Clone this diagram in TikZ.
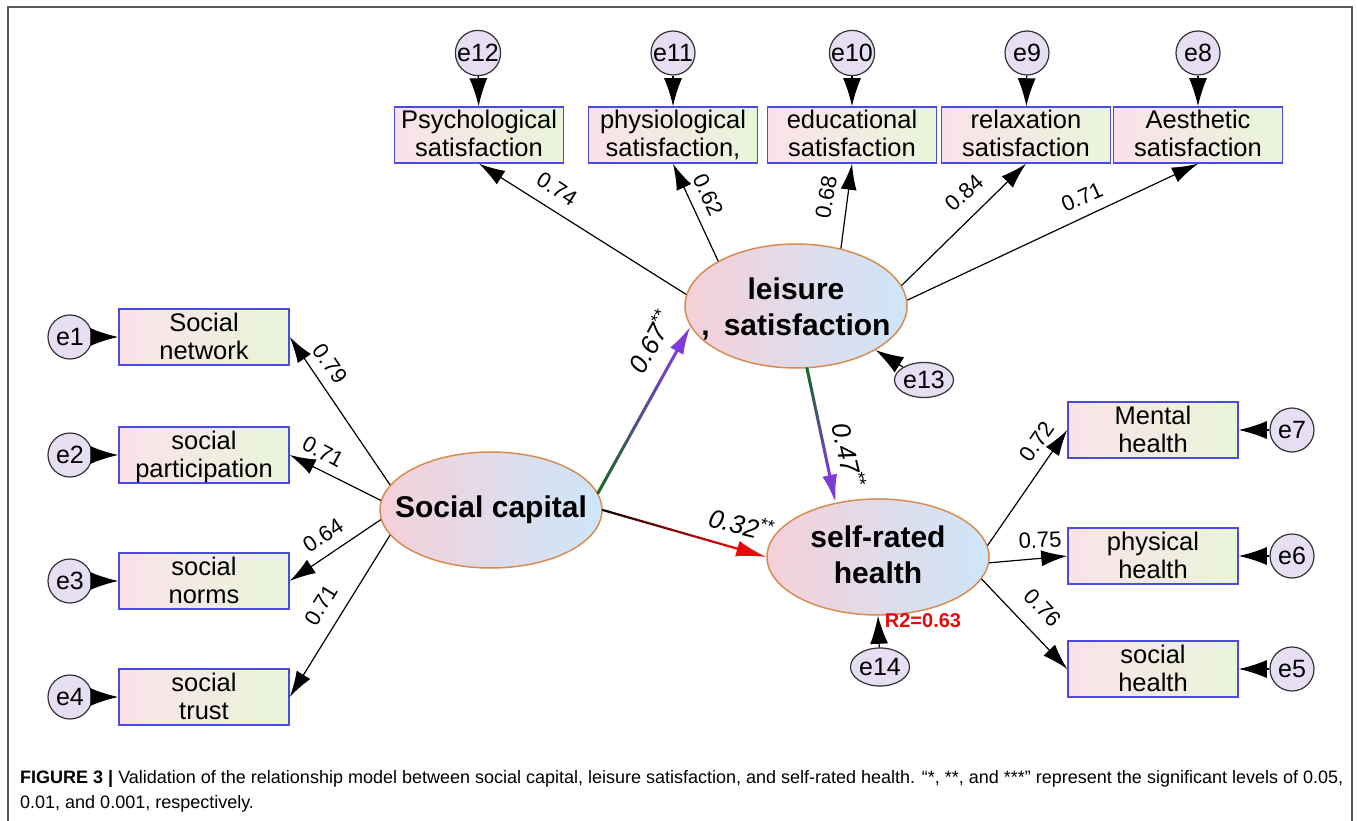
\documentclass[tikz,border=0pt]{standalone}
\usepackage{fontspec}
\setmainfont{Liberation Sans}
\usetikzlibrary{arrows.meta,shapes.geometric,calc}
\definecolor{boxl}{RGB}{250,226,234}
\definecolor{boxr}{RGB}{233,245,216}
\definecolor{boxd}{RGB}{75,75,225}
\definecolor{elll}{RGB}{245,208,216}
\definecolor{ellr}{RGB}{205,230,250}
\definecolor{elld}{RGB}{215,140,80}
\definecolor{errf}{RGB}{230,222,242}
\definecolor{gline}{RGB}{25,105,35}
\definecolor{pline}{RGB}{125,60,215}
\definecolor{kline}{RGB}{20,0,0}
\definecolor{rline}{RGB}{230,10,10}
\definecolor{framec}{RGB}{90,90,90}
\newcommand\boxstrut{\rule[-6pt]{0pt}{28pt}}
\newcommand\sigmark{\raisebox{0.35em}{\fontsize{18}{18}\selectfont **}}
\begin{document}
\begin{tikzpicture}[x=1pt,y=-1pt,
  ind/.style={draw=boxd, line width=1.5pt, left color=boxl, right color=boxr,
    minimum width=169pt, minimum height=56pt, inner sep=0pt, align=center,
    font=\fontsize{25.5}{28}\selectfont},
  lat/.style={ellipse, draw=elld, line width=1.5pt, left color=elll, right color=ellr,
    minimum width=222pt, minimum height=116pt, inner xsep=-40pt, inner ysep=-15pt, align=center,
    font=\fontsize{30}{36}\bfseries\selectfont},
  err/.style={circle, draw=black!80, line width=1.2pt, fill=errf, minimum size=44pt,
    inner sep=0pt, font=\fontsize{25}{25}\selectfont},
  errel/.style={ellipse, draw=black!80, line width=1.2pt, fill=errf, minimum width=59pt,
    minimum height=35pt, inner sep=-5pt, font=\fontsize{25}{25}\selectfont},
  ld/.style={-{Latex[length=26pt,width=16pt]}, line width=1.2pt, black},
  eo/.style={-{Latex[length=28pt,width=18pt]}, line width=1.2pt, black},
  lbl/.style={font=\fontsize{22}{22}\selectfont, inner sep=0pt},
  slbl/.style={font=\fontsize{26}{26}\itshape\selectfont, inner sep=0pt},
  sline/.style={line width=3pt, line cap=round},
]
\useasboundingbox (0,0) rectangle (1357,821);
\draw[framec, line width=2pt] (8,821) -- (8,7) -- (1352,7) -- (1352,821);

% indicator boxes top
\node[ind] (psy) at (479,135) {\boxstrut Psychological\\\boxstrut satisfaction};
\node[ind] (phy) at (673,135) {\boxstrut physiological\\\boxstrut satisfaction,};
\node[ind] (edu) at (852,135) {\boxstrut educational\\\boxstrut satisfaction};
\node[ind] (rel) at (1026,135) {\boxstrut relaxation\\\boxstrut satisfaction};
\node[ind] (aes) at (1198,135) {\boxstrut Aesthetic\\\boxstrut satisfaction};
% left
\node[ind, minimum width=170pt] (sn) at (204,337) {\boxstrut Social\\\boxstrut network};
\node[ind, minimum width=170pt] (sp) at (204,455) {\boxstrut social\\\boxstrut participation};
\node[ind, minimum width=170pt] (sno) at (204,581) {\boxstrut social\\\boxstrut norms};
\node[ind, minimum width=170pt] (st) at (204,697) {\boxstrut social\\\boxstrut trust};
% right
\node[ind, minimum width=170pt] (mh) at (1153,430) {\boxstrut Mental\\\boxstrut health};
\node[ind, minimum width=170pt] (ph) at (1153,556) {\boxstrut physical\\\boxstrut health};
\node[ind, minimum width=170pt] (sh) at (1153,669) {\boxstrut social\\\boxstrut health};

% error terms
\node[err] (e12) at (478,53) {e12};
\node[err] (e11) at (673,53) {e11};
\node[err] (e10) at (852,53) {e10};
\node[err] (e9) at (1027,53) {e9};
\node[err] (e8) at (1198,53) {e8};
\node[err] (e1) at (70,337) {e1};
\node[err] (e2) at (70,455) {e2};
\node[err] (e3) at (70,581) {e3};
\node[err] (e4) at (70,697) {e4};
\node[err] (e7) at (1292,430) {e7};
\node[err] (e6) at (1292,556) {e6};
\node[err] (e5) at (1292,669) {e5};

% latent variables
\node[lat] (sc) at (491,510) {Social capital};
\node[lat, minimum height=124pt] (ls) at (796,306) {\rule{0pt}{30pt}leisure\\{,}\hspace{14pt}satisfaction\rule[-7pt]{0pt}{7pt}};
\node[lat] (sr) at (878,557) {\rule{0pt}{24pt}self-rated\\health\rule[-7pt]{0pt}{7pt}};
\node[errel] (e13) at (924,380) {e13};
\node[errel, minimum height=38pt] (e14) at (880,667) {e14};

% error arrows
\draw[eo] (e12) -- (psy);
\draw[eo] (e11) -- (phy);
\draw[eo] (e10) -- (edu);
\draw[eo] (e9) -- (rel);
\draw[eo] (e8) -- (aes);
\draw[eo] (e1) -- (sn);
\draw[eo] (e2) -- (sp);
\draw[eo] (e3) -- (sno);
\draw[eo] (e4) -- (st);
\draw[eo] (e7) -- (mh);
\draw[eo] (e6) -- (ph);
\draw[eo] (e5) -- (sh);
\draw[eo] (e13) -- (ls.-29);
\draw[eo] (e14) -- (sr.south);

% loadings
\draw[ld] (ls.174) -- (psy.south);
\draw[ld] (ls.150) -- (phy.south);
\draw[ld] (ls.52) -- (edu.south);
\draw[ld] (ls.11) -- (rel.south);
\draw[ld] (ls.3) -- (aes.south);
\draw[ld] (sc.166) -- (sn.east);
\draw[ld] (sc.175) -- (sp.east);
\draw[ld] (sc.185) -- (sno.east);
\draw[ld] (sc.194) -- (st.east);
\draw[ld] (sr.6) -- (mh.west);
\draw[ld] (sr.-3) -- (ph.west);
\draw[ld] (sr.-12) -- (sh.west);

\node[lbl, rotate=-33] (l1) at (557,189) {0.74};
\node[lbl, rotate=-65] (l2) at (708,195) {0.62};
\node[lbl, rotate=80] (l3) at (826,197) {0.68};
\node[lbl, rotate=42] (l4) at (964,193) {0.84};
\node[lbl, rotate=24] (l5) at (1082,197) {0.71};
\node[lbl, rotate=-55] (l6) at (330,364) {0.79};
\node[lbl, rotate=-28] (l7) at (323,452) {0.71};
\node[lbl, rotate=33] (l8) at (323,535) {0.64};
\node[lbl, rotate=58] (l9) at (321,605) {0.71};
\node[lbl, rotate=55] (l10) at (1037,442) {0.72};
\node[lbl, rotate=3] (l11) at (1040,540) {0.75};
\node[lbl, rotate=-47] (l12) at (1043,608) {0.76};

% structural paths with colour gradients
\coordinate (a1) at (sc.9);
\coordinate (b1) at (ls.191);
\coordinate (m1) at ($(b1)!29pt!(a1)$);
\foreach \i in {0,...,23} {
  \pgfmathsetmacro\pa{\i/24}
  \pgfmathsetmacro\pb{(\i+1)/24}
  \pgfmathtruncatemacro\pc{100-\i*100/23}
  \draw[sline, color=gline!\pc!pline] ($(a1)!\pa!(m1)$) -- ($(a1)!\pb!(m1)$);
}
\draw[-{Latex[length=28pt,width=15pt]}, line width=3pt, pline] (m1) -- (b1);

\coordinate (a2) at (ls.-80);
\coordinate (b2) at (sr.128);
\coordinate (m2) at ($(b2)!29pt!(a2)$);
\foreach \i in {0,...,23} {
  \pgfmathsetmacro\pa{\i/24}
  \pgfmathsetmacro\pb{(\i+1)/24}
  \pgfmathtruncatemacro\pc{100-\i*100/23}
  \draw[sline, color=gline!\pc!pline] ($(a2)!\pa!(m2)$) -- ($(a2)!\pb!(m2)$);
}
\draw[-{Latex[length=28pt,width=15pt]}, line width=3pt, pline] (m2) -- (b2);

\coordinate (a3) at (sc.east);
\coordinate (b3) at (sr.west);
\coordinate (m3) at ($(b3)!30pt!(a3)$);
\foreach \i in {0,...,23} {
  \pgfmathsetmacro\pa{\i/24}
  \pgfmathsetmacro\pb{(\i+1)/24}
  \pgfmathtruncatemacro\pc{100-\i*100/23}
  \draw[line width=2.2pt, line cap=round, color=kline!\pc!rline] ($(a3)!\pa!(m3)$) -- ($(a3)!\pb!(m3)$);
}
\draw[-{Latex[length=30pt,width=16pt]}, line width=2.2pt, rline] (m3) -- (b3);

\node[slbl, rotate=61] (s1) at (650,342) {0.67\sigmark};
\node[slbl, rotate=-77] (s2) at (849,455) {0.47\sigmark};
\node[slbl, rotate=-14] (s3) at (741,524) {0.32\sigmark};
\node[font=\fontsize{20}{20}\bfseries\selectfont, text=rline, inner sep=0pt] (r2) at (923,621) {R2=0.63};

% caption
\node[anchor=base west, inner sep=0pt, font=\fontsize{18}{18}\selectfont] (cap1) at (20,783)
  {\textbf{FIGURE 3 |} Validation of the relationship model between social capital, leisure satisfaction, and self-rated health. “*, **, and ***” represent the significant levels of 0.05,};
\node[anchor=base west, inner sep=0pt, font=\fontsize{18}{18}\selectfont] (cap2) at (20,808)
  {0.01, and 0.001, respectively.};
\end{tikzpicture}
\end{document}
